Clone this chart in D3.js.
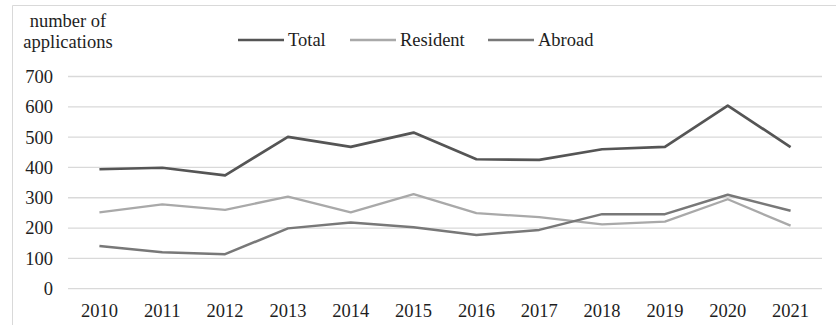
<!DOCTYPE html>
<html>
<head>
<meta charset="utf-8">
<script src="https://cdn.jsdelivr.net/npm/d3@7"></script>
<style>
  html, body { margin: 0; padding: 0; background: #fff; }
  svg { display: block; }
  svg text { font-family: "Liberation Serif", Tinos, "Times New Roman", Times, "DejaVu Serif", serif !important; fill: #1e1e1e; }
</style>
</head>
<body>
<script>
const years = ["2010","2011","2012","2013","2014","2015","2016","2017","2018","2019","2020","2021"];
const total    = [394, 399, 374, 501, 468, 515, 427, 425, 460, 468, 604, 467];
const resident = [252, 278, 260, 304, 252, 312, 249, 236, 212, 221, 295, 208];
const abroad   = [141, 120, 114, 199, 218, 203, 177, 194, 246, 246, 310, 257];
const yTicks = [0, 100, 200, 300, 400, 500, 600, 700];

const series = [
  { name: "Total",    values: total,    color: "#555555", width: 2.7 },
  { name: "Resident", values: resident, color: "#a9a9a9", width: 2.3 },
  { name: "Abroad",   values: abroad,   color: "#787878", width: 2.5 }
];

const FS = 18.5;
const W = 836, H = 325;
const svg = d3.select("body").append("svg").attr("width", W).attr("height", H);

// outer frame
svg.append("path")
  .attr("d", `M12.5,${H} L12.5,5.5 L${W},5.5`)
  .attr("fill", "none").attr("stroke", "#d9d9d9").attr("stroke-width", 1);

const plotLeft = 68, plotRight = 822, plotTop = 76.5, plotBottom = 288.7;

const x = d3.scaleBand().domain(years).range([plotLeft, plotRight]);
const y = d3.scaleLinear().domain([0, 700]).range([plotBottom, plotTop]);

// horizontal gridlines
svg.append("g").selectAll("line").data(yTicks).join("line")
  .attr("x1", plotLeft).attr("x2", plotRight)
  .attr("y1", d => y(d)).attr("y2", d => y(d))
  .attr("stroke", "#d9d9d9").attr("stroke-width", 1.3);

// y axis labels
const yAxis = svg.append("g")
  .attr("transform", `translate(${plotLeft - 15},0)`)
  .call(d3.axisLeft(y).tickValues(yTicks).tickSize(0).tickPadding(0));
yAxis.attr("font-family", null);
yAxis.select(".domain").remove();
yAxis.selectAll("text").attr("font-size", FS).attr("fill", "#1e1e1e");

// x axis labels
const xAxis = svg.append("g")
  .attr("transform", `translate(0,317)`)
  .call(d3.axisBottom(x).tickSize(0).tickPadding(0));
xAxis.attr("font-family", null);
xAxis.select(".domain").remove();
xAxis.selectAll("text").attr("font-size", FS).attr("fill", "#1e1e1e").attr("y", 0).attr("dy", 0);

// lines
const line = d3.line()
  .x((d, i) => x(years[i]) + x.bandwidth() / 2)
  .y(d => y(d));

svg.append("g").selectAll("path").data([series[1], series[2], series[0]]).join("path")
  .attr("d", s => line(s.values))
  .attr("fill", "none")
  .attr("stroke", s => s.color)
  .attr("stroke-width", s => s.width)
  .attr("stroke-linejoin", "round");

// y axis title
const title = svg.append("text").attr("font-size", FS).attr("text-anchor", "middle");
title.append("tspan").attr("x", 68).attr("y", 27).text("number of");
title.append("tspan").attr("x", 68).attr("y", 48).text("applications");

// legend
const legendX = [238, 350, 488];
const lg = svg.append("g").selectAll("g").data(series).join("g")
  .attr("transform", (d, i) => `translate(${legendX[i]},40)`);
lg.append("line").attr("x1", 0).attr("x2", 46).attr("y1", 0).attr("y2", 0)
  .attr("stroke", d => d.color).attr("stroke-width", d => d.width);
lg.append("text").attr("x", 50).attr("y", 0).attr("dy", "0.33em")
  .attr("font-size", FS).text(d => d.name);
</script>
</body>
</html>
